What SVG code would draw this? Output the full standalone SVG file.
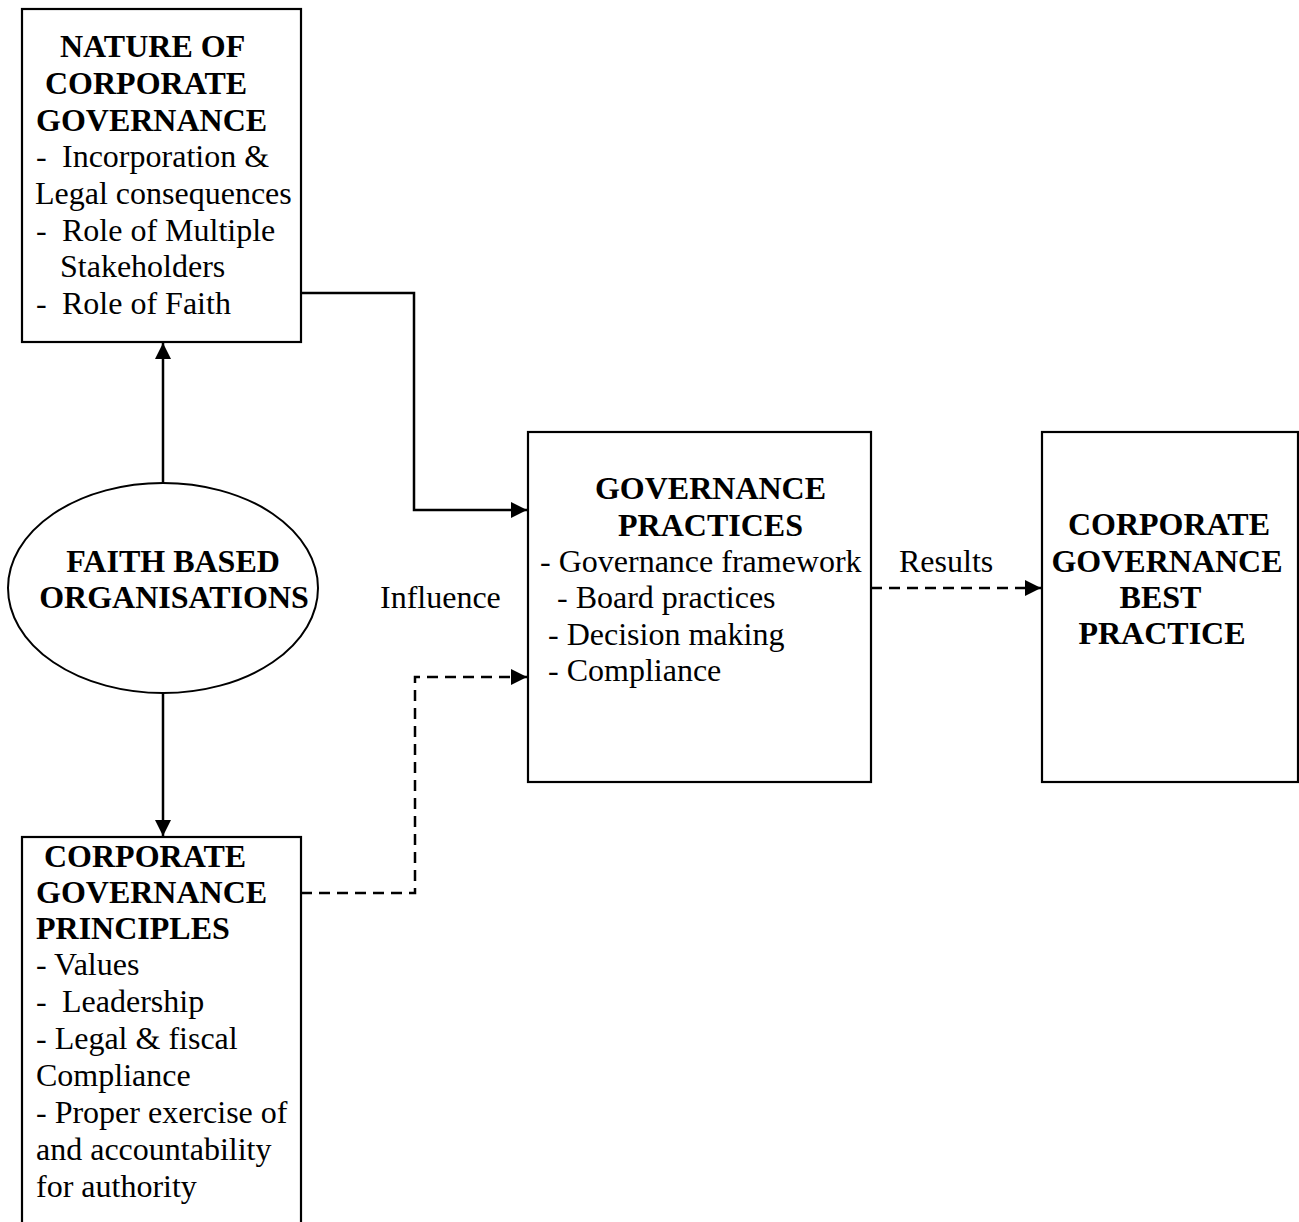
<svg xmlns="http://www.w3.org/2000/svg" width="1299" height="1222" viewBox="0 0 1299 1222">
<style>
  text { font-family: "Liberation Serif", "Times New Roman", serif; font-size: 32px; fill: #000; }
  .b { font-weight: bold; }
  .box { fill: #fff; stroke: #000; stroke-width: 2.2; }
  .ln { fill: none; stroke: #000; stroke-width: 2.5; }
  .dash { stroke-dasharray: 11 7; }
</style>
<defs>
  <marker id="ah" viewBox="0 0 16 16" refX="16" refY="8" markerWidth="16" markerHeight="16" markerUnits="userSpaceOnUse" orient="auto">
    <path d="M0,0 L16,8 L0,16 z" fill="#000"/>
  </marker>
</defs>
<rect width="1299" height="1222" fill="#fff"/>

<g id="connectors">
  <path class="ln" d="M163,483 L163,343" marker-end="url(#ah)"/>
  <path class="ln" d="M163,693 L163,836" marker-end="url(#ah)"/>
  <path class="ln" d="M301,293 L414,293 L414,510 L527,510" marker-end="url(#ah)"/>
  <path class="ln dash" d="M301,893 L415,893 L415,677 L527,677" marker-end="url(#ah)"/>
  <path class="ln dash" d="M871,588 L1041,588" marker-end="url(#ah)"/>
  <text x="380" y="608">Influence</text>
  <text x="899" y="572">Results</text>
</g>

<g id="nature">
  <rect class="box" x="22" y="9" width="279" height="333"/>
  <text class="b" x="60" y="57">NATURE OF</text>
  <text class="b" x="45" y="94">CORPORATE</text>
  <text class="b" x="36" y="131">GOVERNANCE</text>
  <text x="36" y="167">-<tspan x="62">Incorporation &amp;</tspan></text>
  <text x="35" y="204">Legal consequences</text>
  <text x="36" y="241">-<tspan x="62">Role of Multiple</tspan></text>
  <text x="60" y="277">Stakeholders</text>
  <text x="36" y="314">-<tspan x="62">Role of Faith</tspan></text>
</g>

<g id="fbo">
  <ellipse cx="163" cy="588" rx="155" ry="105" fill="#fff" stroke="#000" stroke-width="2"/>
  <text class="b" x="173" y="572" text-anchor="middle">FAITH BASED</text>
  <text class="b" x="174" y="608" text-anchor="middle">ORGANISATIONS</text>
</g>

<g id="principles">
  <rect class="box" x="22" y="837" width="279" height="400"/>
  <text class="b" x="44" y="867">CORPORATE</text>
  <text class="b" x="36" y="903">GOVERNANCE</text>
  <text class="b" x="36" y="939">PRINCIPLES</text>
  <text x="36" y="975">- Values</text>
  <text x="36" y="1012">-<tspan x="62">Leadership</tspan></text>
  <text x="36" y="1049">- Legal &amp; fiscal</text>
  <text x="36" y="1086">Compliance</text>
  <text x="36" y="1123">- Proper exercise of</text>
  <text x="36" y="1160">and accountability</text>
  <text x="36" y="1197">for authority</text>
</g>

<g id="practices">
  <rect class="box" x="528" y="432" width="343" height="350"/>
  <text class="b" x="710.5" y="499" text-anchor="middle">GOVERNANCE</text>
  <text class="b" x="710.5" y="536" text-anchor="middle">PRACTICES</text>
  <text x="540" y="572">- Governance framework</text>
  <text x="557" y="608">- Board practices</text>
  <text x="548" y="645">- Decision making</text>
  <text x="548" y="681">- Compliance</text>
</g>

<g id="bestpractice">
  <rect class="box" x="1042" y="432" width="256" height="350"/>
  <text class="b" x="1169" y="535" text-anchor="middle">CORPORATE</text>
  <text class="b" x="1167" y="572" text-anchor="middle">GOVERNANCE</text>
  <text class="b" x="1160.5" y="608" text-anchor="middle">BEST</text>
  <text class="b" x="1162" y="644" text-anchor="middle">PRACTICE</text>
</g>
</svg>
